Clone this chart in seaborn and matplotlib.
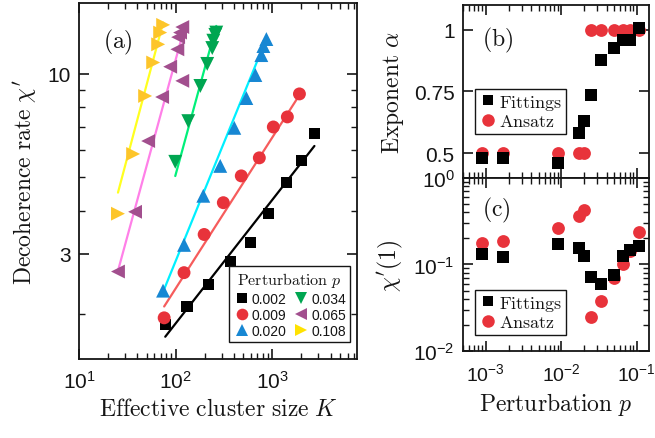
import numpy as np
import pandas as pd
import matplotlib
matplotlib.use("Agg")
import matplotlib.pyplot as plt
import seaborn as sns
from matplotlib.lines import Line2D
from matplotlib.ticker import LogLocator, NullFormatter

# panel (a): decoherence rate vs effective cluster size, one series per p
p_labels = ["0.002", "0.009", "0.020", "0.034", "0.065", "0.108"]

K_002 = [78, 131, 217, 367, 592, 909, 1397, 2000, 2722]
chi_002 = [1.86, 2.10, 2.44, 2.84, 3.23, 3.92, 4.82, 5.59, 6.73]
K_009 = [76, 122, 197, 311, 477, 733, 1023, 1429, 1905]
chi_009 = [1.95, 2.64, 3.41, 4.22, 5.05, 5.70, 7.01, 7.50, 8.75]
K_020 = [74, 122, 193, 289, 404, 538, 667, 769, 807, 867]
chi_020 = [2.34, 3.18, 4.42, 5.40, 6.97, 8.51, 9.93, 11.35, 12.06, 12.64]
K_034 = [99, 135, 180, 212, 239, 245, 257, 263]
chi_034 = [5.55, 7.29, 9.23, 10.7, 11.9, 12.5, 13.0, 13.2]
K_065 = [25.3, 38, 51.9, 72.4, 87.7, 104, 106, 111, 117, 117]
chi_065 = [2.66, 3.97, 6.38, 8.57, 10.5, 11.8, 12.8, 13.2, 13.7, 9.55]
K_108 = [25.3, 36.3, 48.3, 58.5, 65.9, 69.1, 74.2]
chi_108 = [3.92, 5.85, 8.63, 10.8, 12.2, 13.2, 13.9]

# power-law fits chi = amp * K**slope
fit_slope = [0.36, 0.44, 0.69, 1.03, 1.03, 1.06]
fit_amp = [0.358, 0.313, 0.119, 0.0444, 0.0959, 0.147]

# panels (b) and (c): exponent and chi'(1) vs perturbation
p_vals = [0.0009, 0.0017, 0.009, 0.017, 0.020, 0.025, 0.034, 0.050, 0.065, 0.080, 0.108]
alpha_fit = [0.482, 0.482, 0.461, 0.58, 0.63, 0.737, 0.876, 0.926, 0.957, 0.957, 1.008]
alpha_ansatz = [0.5, 0.5, 0.5, 0.5, 0.5, 1, 1, 1, 1, 1, 1]
chi1_fit = [0.133, 0.123, 0.171, 0.155, 0.125, 0.071, 0.060, 0.076, 0.125, 0.149, 0.163]
chi1_ansatz = [0.179, 0.187, 0.267, 0.364, 0.424, 0.025, 0.038, 0.070, 0.102, 0.143, 0.238]

K_all = [K_002, K_009, K_020, K_034, K_065, K_108]
chi_all = [chi_002, chi_009, chi_020, chi_034, chi_065, chi_108]

markers = {"0.002": "s", "0.009": "o", "0.020": "^", "0.034": "v", "0.065": "<", "0.108": ">"}
msize = {"0.002": 8, "0.009": 9.3, "0.020": 10, "0.034": 10, "0.065": 10, "0.108": 10}
mcolors = {"0.002": "black", "0.009": "#e8333b", "0.020": "#1787d3",
           "0.034": "#00a651", "0.065": "#a24f8e", "0.108": "#fdc52a"}
lcolors = {"0.002": "black", "0.009": "#f65c5c", "0.020": "#00f0ff",
           "0.034": "#00f07a", "0.065": "#ff80e8", "0.108": "#ffff20"}

sns.set_theme(style="ticks")
plt.rcParams.update({
    "font.family": ["Liberation Sans", "DejaVu Sans"],
    "mathtext.fontset": "cm",
    "axes.unicode_minus": False,
    "axes.linewidth": 1.3,
    "axes.edgecolor": "#151515",
    "xtick.direction": "in", "ytick.direction": "in",
    "xtick.top": True, "ytick.right": True,
    "xtick.major.size": 7, "ytick.major.size": 7,
    "xtick.minor.size": 4, "ytick.minor.size": 4,
    "xtick.major.width": 1.2, "ytick.major.width": 1.2,
    "xtick.minor.width": 1.0, "ytick.minor.width": 1.0,
    "xtick.labelsize": 15, "ytick.labelsize": 15,
    "xtick.color": "#151515", "ytick.color": "#151515",
    "text.color": "#151515", "axes.labelcolor": "#151515",
})

fig = plt.figure(figsize=(6.55, 4.39), dpi=100)
ax_a = fig.add_axes([0.1206, 0.180, 0.4244, 0.811])
ax_b = fig.add_axes([0.7069, 0.5923, 0.2840, 0.3941])
ax_c = fig.add_axes([0.7069, 0.1982, 0.2840, 0.3941])

# ---- (a)
df_a = pd.concat([pd.DataFrame({"K": k, "chi": c, "p": lab})
                  for k, c, lab in zip(K_all, chi_all, p_labels)])

for k, lab, sl, amp in zip(K_all, p_labels, fit_slope, fit_amp):
    kk = np.geomspace(min(k), max(k), 40)
    sns.lineplot(x=kk, y=amp * kk ** sl, color=lcolors[lab], lw=1.6, ax=ax_a, zorder=2)

sns.scatterplot(data=df_a, x="K", y="chi", hue="p", style="p", size="p",
                palette=mcolors, markers=markers,
                sizes={k: v ** 2 for k, v in msize.items()},
                linewidth=0, legend=False, ax=ax_a, zorder=3)

ax_a.set_xscale("log")
ax_a.set_yscale("log")
ax_a.set_xlim(10, 7500)
ax_a.set_ylim(1.48, 16.1)
ax_a.xaxis.set_major_locator(LogLocator(base=10))
ax_a.xaxis.set_minor_locator(LogLocator(base=10, subs=np.arange(2, 10)))
ax_a.xaxis.set_minor_formatter(NullFormatter())
ax_a.set_yticks([3, 10], labels=["3", "10"])
ax_a.set_yticks([2, 4, 5, 6, 7, 8, 9], minor=True)
ax_a.yaxis.set_minor_formatter(NullFormatter())
ax_a.tick_params(axis="x", pad=8)
ax_a.tick_params(axis="y", pad=6)
ax_a.set_xlabel(r"$\mathrm{Effective\ cluster\ size}\ K$", fontsize=17, labelpad=4)
ax_a.set_ylabel(r"$\mathrm{Decoherence\ rate}\ \chi^{\prime}$", fontsize=17, labelpad=6)
ax_a.text(0.086, 0.893, r"$\mathrm{(a)}$", transform=ax_a.transAxes, fontsize=17, va="center")

handles = [Line2D([], [], ls="none", marker=markers[l], markersize=msize[l] * 0.9,
                  color=mcolors[l] if l != "0.108" else "#ffe200", markeredgewidth=0)
           for l in p_labels]
leg = ax_a.legend(handles, p_labels, ncol=2, title=r"$\mathrm{Perturbation}\ p$",
                  loc="lower right", bbox_to_anchor=(0.975, 0.048), borderaxespad=0,
                  fontsize=10, title_fontsize=11.5, frameon=True, fancybox=False,
                  edgecolor="#151515", framealpha=1, handletextpad=0.1,
                  columnspacing=0.5, borderpad=0.3, labelspacing=0.15, handlelength=1.2)
leg.get_frame().set_linewidth(1.0)

# ---- (b)
sns.scatterplot(x=p_vals, y=alpha_ansatz, color="#e8333b", marker="o", s=85,
                linewidth=0, ax=ax_b, zorder=2)
sns.scatterplot(x=p_vals, y=alpha_fit, color="black", marker="s", s=64,
                linewidth=0, ax=ax_b, zorder=3)
ax_b.set_xscale("log")
ax_b.set_xlim(5e-4, 0.145)
ax_b.set_ylim(0.40, 1.10)
ax_b.xaxis.set_major_locator(LogLocator(base=10))
ax_b.xaxis.set_minor_locator(LogLocator(base=10, subs=np.arange(2, 10)))
ax_b.tick_params(axis="x", labelbottom=False, which="both")
ax_b.set_yticks([0.5, 0.75, 1], labels=["0.5", "0.75", "1"])
ax_b.tick_params(axis="y", pad=6)
ax_b.set_ylabel(r"$\mathrm{Exponent}\ \alpha$", fontsize=17, labelpad=6)
ax_b.text(0.10, 0.80, r"$\mathrm{(b)}$", transform=ax_b.transAxes, fontsize=17, va="center")

ab_handles = [Line2D([], [], ls="none", marker="s", markersize=7.5, color="black", markeredgewidth=0),
              Line2D([], [], ls="none", marker="o", markersize=9, color="#e8333b", markeredgewidth=0)]
ab_labels = [r"$\mathrm{Fittings}$", r"$\mathrm{Ansatz}$"]
leg_b = ax_b.legend(ab_handles, ab_labels, loc="upper left", bbox_to_anchor=(0.064, 0.514),
                    borderaxespad=0, fontsize=13, frameon=True, fancybox=False,
                    edgecolor="#151515", framealpha=1, handletextpad=0.15,
                    borderpad=0.2, labelspacing=0.1, handlelength=1.0)
leg_b.get_frame().set_linewidth(1.0)

# ---- (c)
sns.scatterplot(x=p_vals, y=chi1_ansatz, color="#e8333b", marker="o", s=85,
                linewidth=0, ax=ax_c, zorder=2)
sns.scatterplot(x=p_vals, y=chi1_fit, color="black", marker="s", s=64,
                linewidth=0, ax=ax_c, zorder=3)
ax_c.set_xscale("log")
ax_c.set_yscale("log")
ax_c.set_xlim(5e-4, 0.145)
ax_c.set_ylim(1e-2, 1e0)
for axis in (ax_c.xaxis, ax_c.yaxis):
    axis.set_major_locator(LogLocator(base=10))
    axis.set_minor_locator(LogLocator(base=10, subs=np.arange(2, 10)))
    axis.set_minor_formatter(NullFormatter())
ax_c.tick_params(axis="x", pad=8, labelsize=14)
ax_c.tick_params(axis="y", pad=6)
ax_c.set_xlabel(r"$\mathrm{Perturbation}\ p$", fontsize=17, labelpad=4)
ax_c.set_ylabel(r"$\chi^{\prime}(1)$", fontsize=17, labelpad=6)
ax_c.text(0.10, 0.82, r"$\mathrm{(c)}$", transform=ax_c.transAxes, fontsize=17, va="center")
leg_c = ax_c.legend(ab_handles, ab_labels, loc="lower left", bbox_to_anchor=(0.064, 0.092),
                    borderaxespad=0, fontsize=13, frameon=True, fancybox=False,
                    edgecolor="#151515", framealpha=1, handletextpad=0.15,
                    borderpad=0.2, labelspacing=0.1, handlelength=1.0)
leg_c.get_frame().set_linewidth(1.0)

fig.savefig("out.png", dpi=100)
